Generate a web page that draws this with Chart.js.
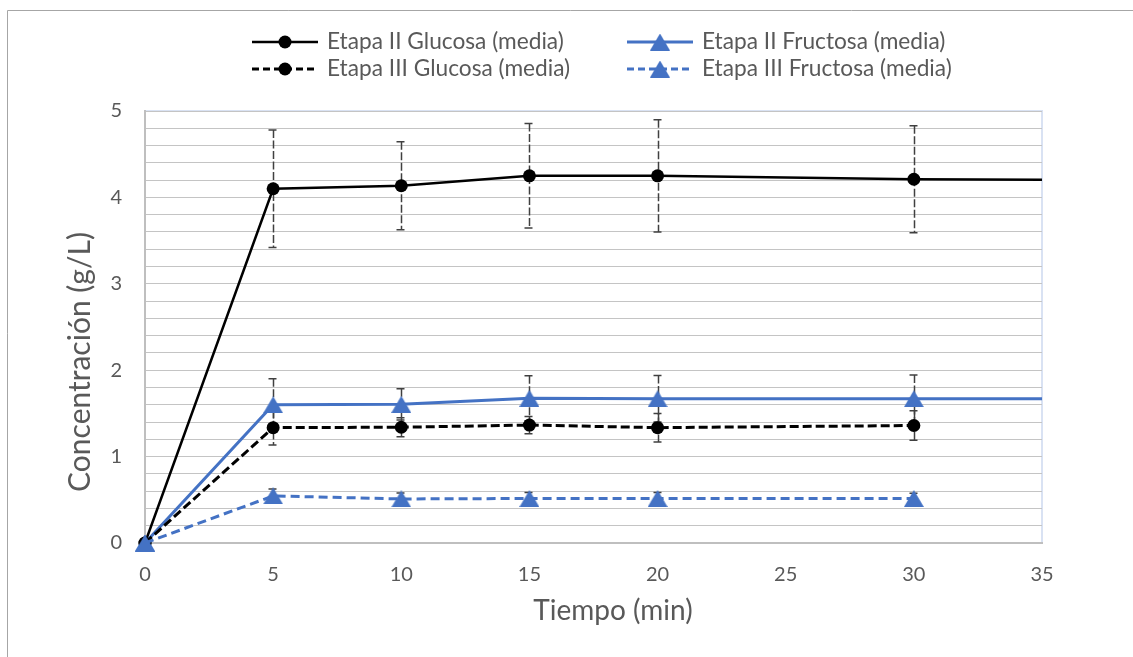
<!DOCTYPE html>
<html><head><meta charset="utf-8">
<script src="https://cdn.jsdelivr.net/npm/chart.js@4.4.1/dist/chart.umd.min.js"></script>
<style>html,body{margin:0;padding:0;background:#fff}#wrap{position:relative;width:1133px;height:657px}</style>
</head><body><div id="wrap"><canvas id="c"></canvas></div>
<script>
// ---- data ----
const tiempo = [0, 5, 10, 15, 20, 30];
const tiempoFinal = 40; // Etapa II lines continue past the right edge
const glucosaII = [0, 4.10, 4.135, 4.25, 4.25, 4.21];
const glucosaIIFinal = 4.20;
const fructosaII = [0, 1.60, 1.605, 1.675, 1.67, 1.67];
const fructosaIIFinal = 1.67;
const glucosaIII = [0, 1.335, 1.34, 1.365, 1.335, 1.36];
const fructosaIII = [0, 0.545, 0.51, 0.515, 0.515, 0.515];
const errGlucosaII = [0, 0.68, 0.51, 0.605, 0.65, 0.62];
const errFructosaII = [0, 0.30, 0.18, 0.26, 0.27, 0.275];
const errGlucosaIII = [0, 0.20, 0.11, 0.10, 0.165, 0.17];
const errFructosaIII = [0, 0.08, 0.07, 0.07, 0.07, 0.06];
const nombres = ['Etapa II Glucosa (media)', 'Etapa II Fructosa (media)', 'Etapa III Glucosa (media)', 'Etapa III Fructosa (media)'];
const tituloX = 'Tiempo (min)';
const tituloY = 'Concentración (g/L)';

const AZUL = '#4472C4';
const GRIS_TXT = '#595959';
const FONT = 'Lato, "Open Sans", sans-serif';

function triangulo(color) {
  const c = document.createElement('canvas');
  c.width = 20; c.height = 17;
  const g = c.getContext('2d');
  g.fillStyle = color;
  g.beginPath();
  g.moveTo(10, 0); g.lineTo(20, 17); g.lineTo(0, 17); g.closePath();
  g.fill();
  return c;
}
const TRI = triangulo(AZUL);

function puntos(xs, ys, extra) {
  const p = xs.map((x, i) => ({x: x, y: ys[i]}));
  if (extra !== undefined) p.push({x: tiempoFinal, y: extra});
  return p;
}
function radios(n, r, extra) {
  const a = new Array(n).fill(r);
  if (extra) a.push(0);
  return a;
}
const recorte = {left: 14, top: 0, right: 0, bottom: 14};

const datasets = [
  {label: nombres[0], data: puntos(tiempo, glucosaII, glucosaIIFinal), errores: errGlucosaII, order: 3,
   borderColor: '#000', backgroundColor: '#000', borderWidth: 2.5, pointStyle: 'circle',
   pointRadius: radios(tiempo.length, 6.5, true), pointBorderWidth: 0, borderDash: [], clip: recorte},
  {label: nombres[1], data: puntos(tiempo, fructosaII, fructosaIIFinal), errores: errFructosaII, order: 2,
   borderColor: AZUL, backgroundColor: AZUL, borderWidth: 3, pointStyle: TRI,
   pointRadius: radios(tiempo.length, 10, true), pointBorderWidth: 0, borderDash: [], clip: recorte},
  {label: nombres[2], data: puntos(tiempo, glucosaIII), errores: errGlucosaIII, order: 1,
   borderColor: '#000', backgroundColor: '#000', borderWidth: 3, pointStyle: 'circle',
   pointRadius: radios(tiempo.length, 6.5, false), pointBorderWidth: 0, borderDash: [9, 4], clip: recorte},
  {label: nombres[3], data: puntos(tiempo, fructosaIII), errores: errFructosaIII, order: 0,
   borderColor: AZUL, backgroundColor: AZUL, borderWidth: 3, pointStyle: TRI,
   pointRadius: radios(tiempo.length, 10, false), pointBorderWidth: 0, borderDash: [9, 5], clip: recorte}
];

const marco = {
  id: 'marco',
  beforeDraw(chart) {
    const ctx = chart.ctx;
    ctx.save();
    ctx.fillStyle = '#fff';
    ctx.fillRect(0, 0, chart.width, chart.height);
    ctx.strokeStyle = '#a6a6a6';
    ctx.lineWidth = 1;
    ctx.beginPath();
    ctx.moveTo(7.5, chart.height);
    ctx.lineTo(7.5, 10.5);
    ctx.lineTo(chart.width, 10.5);
    ctx.stroke();
    const a = chart.chartArea;
    ctx.strokeStyle = '#d9e2f3';
    ctx.lineWidth = 2;
    ctx.beginPath();
    ctx.moveTo(a.left, a.top);
    ctx.lineTo(a.right, a.top);
    ctx.lineTo(a.right, a.bottom);
    ctx.stroke();
    ctx.restore();
  }
};

const barrasError = {
  id: 'barrasError',
  beforeDatasetsDraw(chart) {
    const ctx = chart.ctx;
    const xs = chart.scales.x, ys = chart.scales.y;
    ctx.save();
    ctx.strokeStyle = '#404040';
    ctx.lineWidth = 1.5;
    ctx.setLineDash([8, 2.5]);
    chart.data.datasets.forEach(ds => {
      ds.errores.forEach((e, i) => {
        if (!e) return;
        const v = ds.data[i].y;
        const px = Math.round(xs.getPixelForValue(ds.data[i].x)) + 0.5;
        const t = ys.getPixelForValue(v + e);
        const b = ys.getPixelForValue(v - e);
        ctx.beginPath();
        ctx.moveTo(px, t); ctx.lineTo(px, b);
        ctx.moveTo(px - 5, t); ctx.lineTo(px + 5, t);
        ctx.moveTo(px - 5, b); ctx.lineTo(px + 5, b);
        ctx.stroke();
      });
    });
    ctx.restore();
  }
};

function marcador(ctx, estilo, x, y, color) {
  ctx.save();
  ctx.setLineDash([]);
  if (estilo === 'circle') {
    ctx.fillStyle = color;
    ctx.beginPath();
    ctx.arc(x, y, 6.5, 0, Math.PI * 2);
    ctx.fill();
  } else {
    ctx.drawImage(estilo, x - estilo.width / 2, y - estilo.height / 2);
  }
  ctx.restore();
}

const leyendaYTitulos = {
  id: 'leyendaYTitulos',
  afterDraw(chart) {
    const ctx = chart.ctx;
    const pos = [[252, 42], [627, 42], [252, 69], [627, 69]];
    ctx.save();
    chart.data.datasets.forEach((ds, i) => {
      const [x0, y] = pos[i];
      ctx.strokeStyle = ds.borderColor;
      ctx.lineWidth = ds.borderWidth;
      ctx.setLineDash(ds.borderDash.length ? [7, 4] : []);
      ctx.beginPath();
      ctx.moveTo(x0, y); ctx.lineTo(x0 + 66, y);
      ctx.stroke();
      marcador(ctx, ds.pointStyle, x0 + 33, y, ds.backgroundColor);
      ctx.fillStyle = GRIS_TXT;
      ctx.font = '22.7px ' + FONT;
      ctx.textBaseline = 'middle';
      ctx.textAlign = 'left';
      ctx.fillText(ds.label, x0 + 75, y);
    });
    // axis titles
    ctx.fillStyle = GRIS_TXT;
    ctx.textAlign = 'center';
    ctx.textBaseline = 'middle';
    ctx.font = '28px ' + FONT;
    ctx.fillText(tituloX, 613, 611);
    ctx.translate(80, 362);
    ctx.rotate(-Math.PI / 2);
    ctx.font = '30px ' + FONT;
    ctx.fillText(tituloY, 0, 0);
    ctx.restore();
  }
};

new Chart(document.getElementById('c'), {
  type: 'line',
  data: {datasets: datasets},
  options: {
    responsive: true,
    maintainAspectRatio: false,
    animation: false,
    layout: {padding: {top: 111, right: 91, left: 0, bottom: 0}},
    plugins: {legend: {display: false}, tooltip: {enabled: false}},
    elements: {line: {tension: 0}},
    scales: {
      x: {
        type: 'linear', min: 0, max: 35,
        afterFit(s) { s.height = 114; },
        ticks: {stepSize: 5, color: GRIS_TXT, font: {family: FONT, size: 20}, padding: 20, maxRotation: 0},
        grid: {display: false, drawTicks: false},
        border: {color: '#bfbfbf', width: 2}
      },
      y: {
        type: 'linear', min: 0, max: 5,
        afterFit(s) { s.width = 145; },
        ticks: {stepSize: 0.2, autoSkip: false, color: GRIS_TXT, font: {family: FONT, size: 20}, padding: 23,
          callback: v => Math.abs(v - Math.round(v)) < 1e-6 ? String(Math.round(v)) : ''},
        grid: {color: '#c4c4c4', lineWidth: 1, drawTicks: false},
        border: {color: '#bfbfbf', width: 2}
      }
    }
  },
  plugins: [marco, barrasError, leyendaYTitulos]
});
</script>
</body></html>
